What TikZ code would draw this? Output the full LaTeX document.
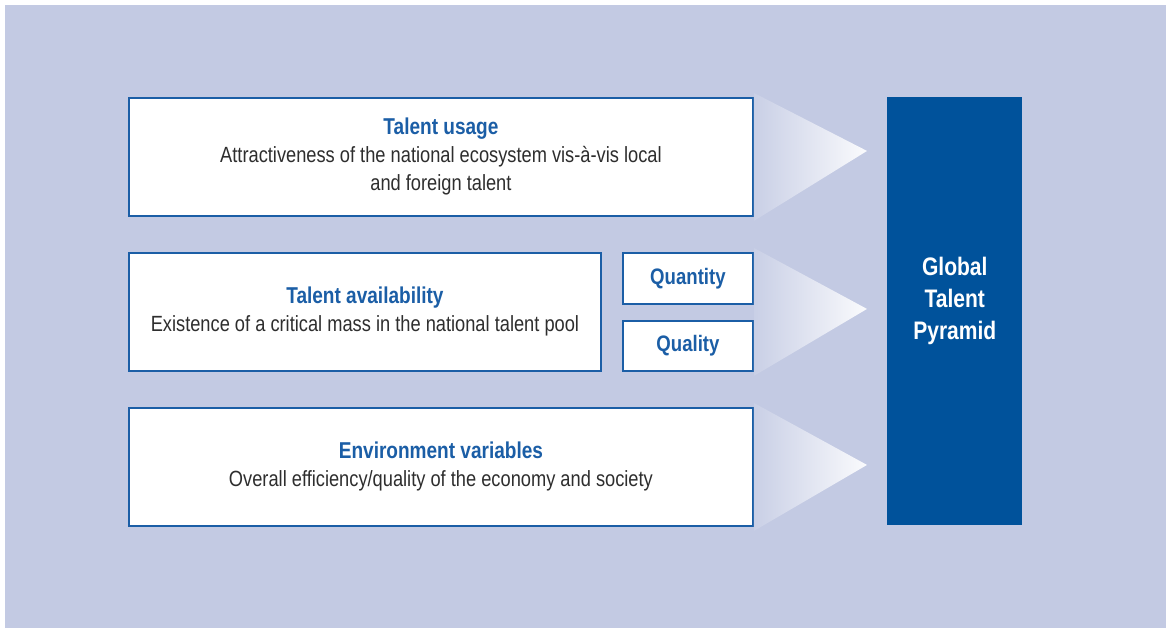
\documentclass[tikz,border=0pt]{standalone}
\usepackage{fontspec}
\setmainfont{Liberation Sans}[FakeStretch=0.83]
\usetikzlibrary{positioning,calc}
\definecolor{bgblue}{HTML}{C3CAE3}
\definecolor{darkblue}{HTML}{00529B}
\definecolor{lineblue}{HTML}{1B5EA6}
\definecolor{textgrey}{HTML}{2E2E2E}
\newcommand{\boxtitle}[1]{\textcolor{lineblue}{\fontsize{17.2}{21}\selectfont\bfseries #1}}

\begin{document}
\begin{tikzpicture}[x=0.75pt,y=-0.75pt,
  box/.style={draw=lineblue,line width=1.4pt,fill=white,inner sep=0pt,anchor=north west,
    align=center,text=textgrey,font=\fontsize{16.5}{21}\selectfont},
  smallbox/.style={box,minimum width=97.5pt,text=lineblue,font=\fontsize{16.8}{21}\selectfont\bfseries},
  fan/.style={left color=bgblue!90!white,right color=bgblue!8!white}]
  \useasboundingbox (0,0) rectangle (1166,628);
  \fill[bgblue] (5,5) rectangle (1166,628);
  \node[box,minimum width=468pt,minimum height=88.5pt] (usage) at (128,97)
    {\boxtitle{Talent usage}\\Attractiveness of the national ecosystem vis-à-vis local\\and foreign talent};
  \node[box,minimum width=354pt,minimum height=88.5pt] (avail) at (128,252)
    {\boxtitle{Talent availability}\\Existence of a critical mass in the national talent pool};
  \node[smallbox,minimum height=38.25pt] (quantity) at (622,252) {Quantity};
  \node[smallbox,minimum height=37.5pt] (quality) at (622,320) {Quality};
  \node[box,minimum width=468pt,minimum height=88.5pt] (env) at (128,407)
    {\boxtitle{Environment variables}\\Overall efficiency/quality of the economy and society};
  \node[fill=darkblue,minimum width=101.25pt,minimum height=321pt,anchor=north west] (pyramid) at (887,97) {};
  \node[text=white,align=center,font=\fontsize{19}{24}\selectfont\bfseries] (pyrlabel)
    at ($(pyramid.center)+(0,-10)$) {Global\\Talent\\Pyramid};
  \shade[fan] ($(usage.east)+(0,-64)$) -- ($(pyramid.west|-usage.east)+(-20,-6)$) -- ($(usage.east)+(0,64)$) -- cycle;
  \shade[fan] ($(quantity.east|-avail.east)+(0,-64)$) -- ($(pyramid.west|-avail.east)+(-20,-3)$) -- ($(quantity.east|-avail.east)+(0,64)$) -- cycle;
  \shade[fan] ($(env.east)+(0,-64)$) -- ($(pyramid.west|-env.east)+(-20,-2)$) -- ($(env.east)+(0,64)$) -- cycle;
\end{tikzpicture}
\end{document}
